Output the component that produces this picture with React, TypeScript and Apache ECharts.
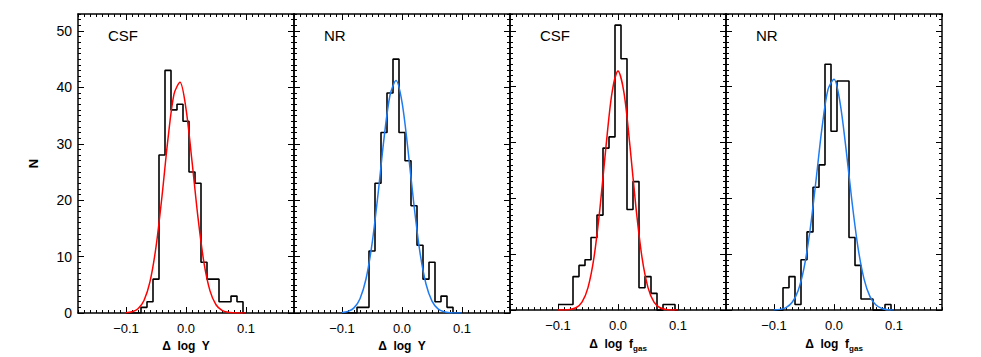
import React, { useEffect, useRef } from "react";
import * as echarts from "echarts";

// Histogram bin centres (bin width 0.01)
const binCenters = [
  -0.1, -0.09, -0.08, -0.07, -0.06, -0.05, -0.04, -0.03, -0.02, -0.01, 0.0,
  0.01, 0.02, 0.03, 0.04, 0.05, 0.06, 0.07, 0.08, 0.09, 0.1,
];

// Counts per panel
const csfYCounts = [0, 0, 0, 1, 2, 6, 28, 43, 36, 37, 34, 25, 23, 9, 6, 6, 2, 2, 3, 2, 0];
const nrYCounts = [0, 0, 0, 1, 1, 11, 23, 32, 39, 45, 32, 27, 19, 12, 6, 9, 2, 3, 1, 0, 0];
const csfFgasCounts = [1, 1, 1, 6, 8, 9, 13, 17, 29, 31, 51, 45, 18, 23, 4, 6, 3, 0, 1, 1, 0];
const nrFgasCounts = [0, 0, 4, 6, 1, 9, 14, 22, 26, 44, 32, 41, 41, 13, 8, 2, 2, 0, 0, 1, 0];

// Gaussian fit curves at the same x positions
const fitX = binCenters;
const csfYFit = [0.05, 0.21, 0.74, 2.21, 5.55, 11.7, 20.7, 30.9, 38.8, 40.9, 36.2, 26.9, 16.9, 8.87, 3.92, 1.46, 0.46, 0.12, 0.03, 0, 0];
const nrYFit = [0.07, 0.28, 0.91, 2.54, 6.03, 12.2, 21.0, 30.9, 38.6, 41.2, 37.4, 28.9, 19.1, 10.7, 5.14, 2.1, 0.73, 0.22, 0.05, 0.01, 0];
const csfFgasFit = [0, 0.02, 0.1, 0.42, 1.42, 4.03, 9.44, 18.3, 29.3, 38.9, 42.8, 38.9, 29.3, 18.3, 9.44, 4.03, 1.42, 0.42, 0.1, 0.02, 0];
const nrFgasFit = [0.03, 0.13, 0.46, 1.35, 3.44, 7.53, 14.2, 23.2, 32.6, 39.5, 41.3, 37.2, 28.9, 19.4, 11.2, 5.6, 2.41, 0.9, 0.29, 0.08, 0.02];

const panelLabels = ["CSF", "NR", "CSF", "NR"];
const xAxisNames = ["{m|Δ  log  Y}", "{m|Δ  log  Y}", "{m|Δ  log  f}{sub|gas}", "{m|Δ  log  f}{sub|gas}"];

const xMajorTicks = [-0.1, 0, 0.1];
const xTickLabels = ["−0.1", "0.0", "0.1"];
const yMajorTicks = [0, 10, 20, 30, 40, 50];
const yTickLabels = ["0", "10", "20", "30", "40", "50"];

const X_MIN = -0.18;
const X_MAX = 0.18;
const Y_MIN = 0;
const Y_MAX = 53;

const RED = "#ff0000";
const BLUE = "#1f7bf2";

const FONT = "'Liberation Sans', Arial, Helvetica, sans-serif";

const panels = [
  { counts: csfYCounts, fit: csfYFit, color: RED },
  { counts: nrYCounts, fit: nrYFit, color: BLUE },
  { counts: csfFgasCounts, fit: csfFgasFit, color: RED },
  { counts: nrFgasCounts, fit: nrFgasFit, color: BLUE },
];

const LEFT = 78;
const PANEL_W = 216;
const TOP = 14;
const HEIGHT = 299;

function lookupLabel(v: number, ticks: number[], labels: string[]) {
  let best = 0;
  for (let i = 1; i < ticks.length; i++) {
    if (Math.abs(ticks[i] - v) < Math.abs(ticks[best] - v)) best = i;
  }
  return labels[best];
}

export default function App() {
  const ref = useRef<HTMLDivElement>(null);

  useEffect(() => {
    if (!ref.current) return;
    document.body.style.margin = "0";
    const chart = echarts.init(ref.current, undefined, { renderer: "svg" });

    const grids: any[] = [];
    const xAxes: any[] = [];
    const yAxes: any[] = [];
    const series: any[] = [];
    const graphics: any[] = [];

    const lineStyle = { color: "#000", width: 1.5 };
    const tickLine = { color: "#000", width: 1 };

    panels.forEach((p, i) => {
      const left = LEFT + i * PANEL_W;
      grids.push({ left, width: PANEL_W, top: TOP, height: HEIGHT });

      const xBase = {
        gridIndex: i,
        type: "value",
        min: X_MIN,
        max: X_MAX,
        splitLine: { show: false },
      };
      // bottom minor
      xAxes.push({
        ...xBase,
        position: "bottom",
        interval: 0.01,
        axisLine: { show: true, onZero: false, lineStyle },
        axisTick: { show: true, inside: true, length: 3, lineStyle: tickLine },
        axisLabel: { show: false },
      });
      // bottom major with labels & name
      xAxes.push({
        ...xBase,
        position: "bottom",
        axisLine: { show: false, onZero: false },
        axisTick: { show: true, inside: true, length: 6, lineStyle: tickLine, customValues: xMajorTicks },
        axisLabel: {
          show: true,
          customValues: xMajorTicks,
          formatter: (v: number) => lookupLabel(v, xMajorTicks, xTickLabels),
          color: "#000",
          fontSize: 13,
          fontFamily: FONT,
          margin: 9,
        },
        name: xAxisNames[i],
        nameLocation: "middle",
        nameGap: 22,
        nameTextStyle: {
          color: "#000",
          fontFamily: FONT,
          rich: {
            m: { fontSize: 12, fontWeight: "bold", fontFamily: FONT, color: "#000", verticalAlign: "top", lineHeight: 14 },
            sub: { fontSize: 8, fontWeight: "bold", fontFamily: FONT, color: "#000", verticalAlign: "bottom", lineHeight: 8, padding: [7, 0, 0, 0] },
          },
        },
      });
      // top minor
      xAxes.push({
        ...xBase,
        position: "top",
        interval: 0.01,
        axisLine: { show: true, onZero: false, lineStyle },
        axisTick: { show: true, inside: true, length: 3, lineStyle: tickLine },
        axisLabel: { show: false },
      });
      // top major
      xAxes.push({
        ...xBase,
        position: "top",
        axisLine: { show: false, onZero: false },
        axisTick: { show: true, inside: true, length: 6, lineStyle: tickLine, customValues: xMajorTicks },
        axisLabel: { show: false },
      });

      const yBase = {
        gridIndex: i,
        type: "value",
        min: Y_MIN,
        max: Y_MAX,
        splitLine: { show: false },
      };
      // left minor
      yAxes.push({
        ...yBase,
        position: "left",
        interval: 1,
        axisLine: { show: true, onZero: false, lineStyle },
        axisTick: { show: true, inside: true, length: 3, lineStyle: tickLine },
        axisLabel: { show: false },
      });
      // left major
      yAxes.push({
        ...yBase,
        position: "left",
        axisLine: { show: false, onZero: false },
        axisTick: { show: true, inside: true, length: 6, lineStyle: tickLine, customValues: yMajorTicks },
        axisLabel: {
          show: i === 0,
          customValues: yMajorTicks,
          formatter: (v: number) => lookupLabel(v, yMajorTicks, yTickLabels),
          color: "#000",
          fontSize: 14,
          fontFamily: FONT,
          margin: 6,
        },
        name: i === 0 ? "N" : "",
        nameLocation: "middle",
        nameGap: 38,
        nameRotate: 90,
        nameTextStyle: { color: "#000", fontSize: 13, fontWeight: "bold", fontFamily: FONT },
      });
      // right minor
      yAxes.push({
        ...yBase,
        position: "right",
        interval: 1,
        axisLine: { show: true, onZero: false, lineStyle },
        axisTick: { show: true, inside: true, length: 3, lineStyle: tickLine },
        axisLabel: { show: false },
      });
      // right major
      yAxes.push({
        ...yBase,
        position: "right",
        axisLine: { show: false, onZero: false },
        axisTick: { show: true, inside: true, length: 6, lineStyle: tickLine, customValues: yMajorTicks },
        axisLabel: { show: false },
      });

      series.push({
        type: "line",
        xAxisIndex: i * 4,
        yAxisIndex: i * 4,
        data: binCenters.map((c, j) => [c, p.counts[j]]),
        step: "middle",
        symbol: "none",
        silent: true,
        lineStyle: { color: "#000", width: 1.6 },
        z: 3,
      });
      series.push({
        type: "line",
        xAxisIndex: i * 4,
        yAxisIndex: i * 4,
        data: fitX.map((x, j) => [x, p.fit[j]]),
        smooth: 0.3,
        symbol: "none",
        silent: true,
        lineStyle: { color: p.color, width: 1.5 },
        z: 4,
      });

      graphics.push({
        type: "text",
        left: left + 30,
        top: 28,
        style: { text: panelLabels[i], fontSize: 15, fontFamily: FONT, fill: "#000" },
      });
    });

    chart.setOption({
      animation: false,
      backgroundColor: "#fff",
      grid: grids,
      xAxis: xAxes,
      yAxis: yAxes,
      series,
      graphic: graphics,
    });

    return () => chart.dispose();
  }, []);

  return (
    <div
      ref={ref}
      style={{ position: "absolute", left: 0, top: 0, width: 981, height: 357, background: "#fff" }}
    />
  );
}
